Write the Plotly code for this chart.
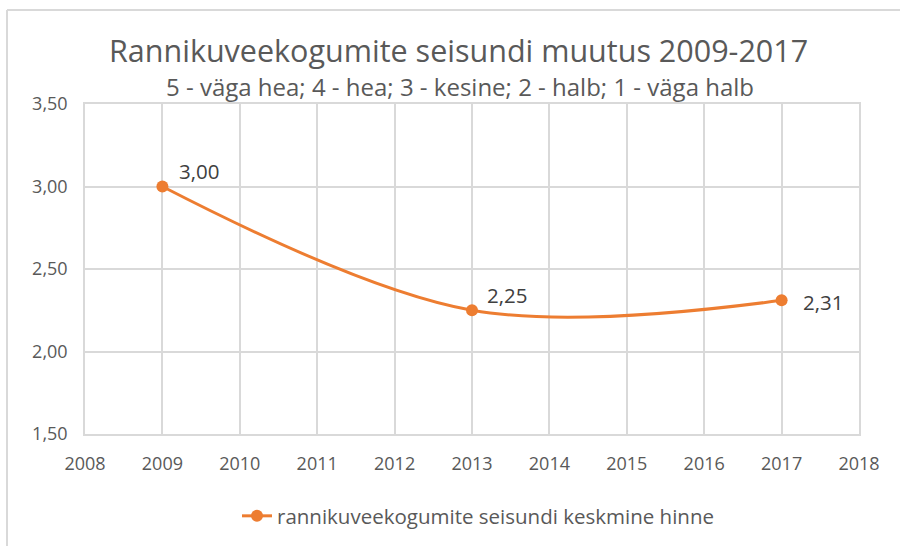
import plotly.graph_objects as go

years = [2009, 2013, 2017]
values = [3.00, 2.25, 2.31]
labels = ["3,00", "2,25", "2,31"]
label_dx = [15, 13, 19]
label_dy = [16, 15, -2]
series_name = "rannikuveekogumite seisundi keskmine hinne"
title_text = "Rannikuveekogumite seisundi muutus 2009-2017"
subtitle_text = "5 - väga hea; 4 - hea; 3 - kesine; 2 - halb; 1 - väga halb"

ORANGE = "#ED7D31"
GRAY = "#595959"
GRID = "#D9D9D9"
FONT = "Open Sans, Noto Sans, sans-serif"

fig = go.Figure()
fig.add_trace(go.Scatter(
    x=years, y=values, name=series_name,
    mode="lines+markers",
    line=dict(color=ORANGE, width=3, shape="spline", smoothing=1.0),
    marker=dict(color=ORANGE, size=12),
    cliponaxis=False,
))

L, R, T, B = 85, 41, 104, 112
W, H = 900, 546
pw, ph = W - L - R, H - T - B

def px_x(x):
    return (x - L) / pw

def px_y(y):
    return (H - B - y) / ph

annotations = [
    dict(text=t, x=xv, y=yv, xref="x", yref="y", xanchor="left", yanchor="middle",
         xshift=dx, yshift=dy, showarrow=False,
         font=dict(size=20.5, color="#404040", family=FONT))
    for t, xv, yv, dx, dy in zip(labels, years, values, label_dx, label_dy)
]
annotations += [
    dict(text=title_text, xref="paper", yref="paper", x=px_x(458), y=px_y(50),
         xanchor="center", yanchor="middle", showarrow=False,
         font=dict(size=30.5, color=GRAY, family=FONT)),
    dict(text=subtitle_text, xref="paper", yref="paper", x=px_x(460), y=px_y(86),
         xanchor="center", yanchor="middle", showarrow=False,
         font=dict(size=24, color=GRAY, family=FONT)),
]

fig.update_layout(
    width=W, height=H,
    margin=dict(l=L, r=R, t=T, b=B, autoexpand=False),
    paper_bgcolor="white", plot_bgcolor="white",
    separators=", ",
    font=dict(family=FONT, color=GRAY, size=18),
    showlegend=True,
    legend=dict(orientation="h", x=px_x(478), xanchor="center", y=px_y(516), yanchor="middle",
                font=dict(size=20.5, color=GRAY, family=FONT)),
    xaxis=dict(range=[2008, 2018], dtick=1, tick0=2008, showgrid=True, automargin=False,
               gridcolor=GRID, gridwidth=1.5, zeroline=False,
               showline=True, linecolor=GRID, linewidth=1.5, mirror=True,
               ticks="", tickfont=dict(size=18, color=GRAY), ticklabelstandoff=13),
    yaxis=dict(range=[1.5, 3.5], dtick=0.5, tickformat=".2f", showgrid=True, automargin=False,
               gridcolor=GRID, gridwidth=1.5, zeroline=False,
               showline=True, linecolor=GRID, linewidth=1.5, mirror=True,
               ticks="", tickfont=dict(size=18, color=GRAY), ticklabelstandoff=12),
    annotations=annotations,
    shapes=[
        dict(type="line", xref="paper", yref="paper", x0=px_x(7), x1=px_x(900),
             y0=px_y(10), y1=px_y(10), line=dict(color=GRID, width=2)),
        dict(type="line", xref="paper", yref="paper", x0=px_x(7), x1=px_x(7),
             y0=px_y(10), y1=px_y(546), line=dict(color=GRID, width=2)),
    ],
)

fig.write_html("out.html", config={"displayModeBar": False},
               post_script="document.body.style.margin='0';")
